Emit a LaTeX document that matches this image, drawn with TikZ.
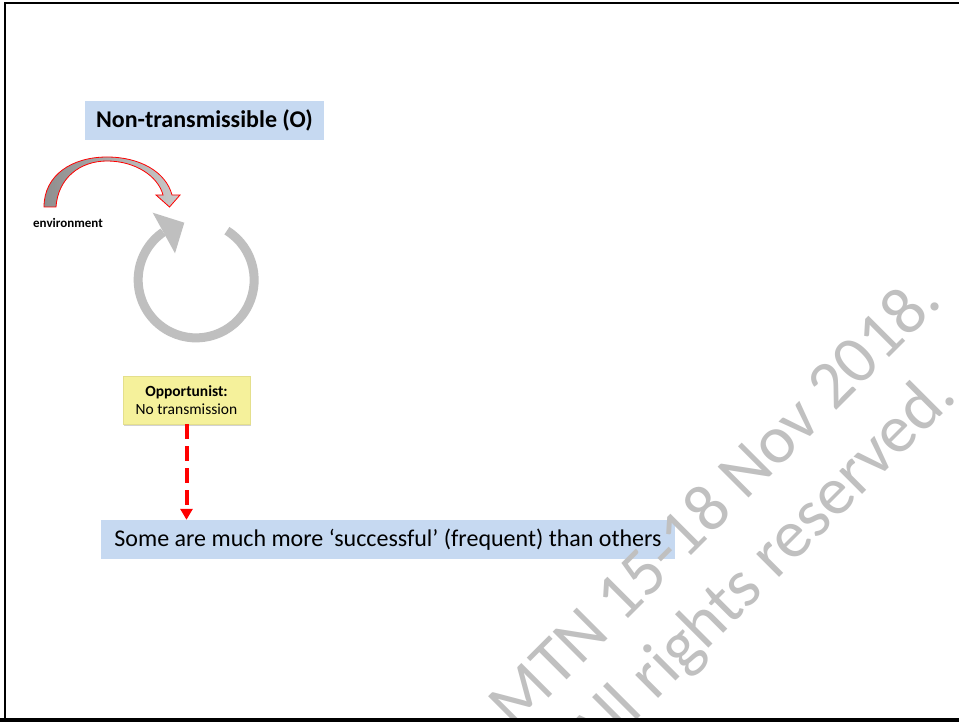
\documentclass[tikz,border=0pt]{standalone}
\usepackage{fontspec}
\setmainfont{Carlito}
\usetikzlibrary{arrows.meta,shadows}
\definecolor{boxblue}{HTML}{C6D9F1}
\definecolor{wmgray}{HTML}{C0C0C0}
\definecolor{ringgray}{HTML}{BFBFBF}
\definecolor{oppyellow}{HTML}{F5F19B}
\definecolor{oppedge}{HTML}{E4DF8C}
\definecolor{arrowdark}{HTML}{8E8E8E}
\definecolor{arrowlight}{HTML}{CACACA}
\begin{document}
\begin{tikzpicture}[x=1pt,y=-1pt,
  bluebox/.style={rectangle, fill=boxblue, inner sep=0pt, text=black},
  oppbox/.style={rectangle, fill=oppyellow, draw=oppedge, line width=0.6pt, inner sep=0pt,
    align=center, minimum width=127pt, minimum height=48pt,
    font=\fontsize{15.5}{18.3}\selectfont,
    drop shadow={opacity=0.35, shadow xshift=1pt, shadow yshift=-2pt}},
  wm/.style={text=wmgray, rotate=45, inner sep=0pt, font=\fontsize{68}{68}\selectfont},
  redarrow/.style={draw=red, line width=4pt, dash pattern=on 15pt off 7pt,
    -{Triangle[width=12pt,length=11pt]}}
]
\useasboundingbox (0,0) rectangle (959,722);
\fill[white] (0,0) rectangle (959,722);

% title
\node[bluebox, minimum width=239pt, minimum height=39pt,
  font=\fontsize{24}{28}\selectfont\bfseries] (title) at (204.5,120.5) {Non-transmissible (O)};

% curved arrow from environment
\path[draw=red, line width=0.8pt, left color=arrowdark, right color=arrowlight]
  (44,207) .. controls (44,175) and (72,157) .. (107,157)
  .. controls (140,157) and (166,172) .. (172,195)
  -- (180,195) -- (169.5,207) -- (156,195) -- (163,195)
  .. controls (158,176) and (135,161) .. (107,161)
  .. controls (80,161) and (58,178) .. (56,207) -- cycle;

\node[font=\fontsize{13}{15}\selectfont\bfseries, inner sep=0pt] (env) at (68,223) {environment};

% circular arrow
\draw[ringgray, line width=9pt] (226.9,230.7) arc[start angle=-58, end angle=235.4, radius=58];
\fill[ringgray] (152.7,212.7) -- (184.3,222.7) -- (175,253.3) -- cycle;

% opportunist box
\node[oppbox] (opp) at (186.5,400) {\textbf{Opportunist:}\\No transmission};

% bottom box
\node[bluebox, minimum width=574pt, minimum height=38.5pt,
  font=\fontsize{24}{28}\selectfont] (bot) at (388,539.25) {Some are much more ‘successful’ (frequent) than others};

\draw[redarrow] (opp.south) -- (opp.south |- bot.north);

% watermark
\begin{scope}
\clip (0,0) rectangle (959,717);
\node[wm, anchor=base east] (wm1) at (944,303) {MTN 15-18 Nov 2018.};
\node[wm, anchor=base east] (wm2) at (959,398) {All rights reserved.};
\end{scope}

% frame
\draw[line width=2.5pt] (5,722) -- (5,3) -- (959,3);
\draw[line width=4pt] (0,720) -- (959,720);
\end{tikzpicture}
\end{document}
